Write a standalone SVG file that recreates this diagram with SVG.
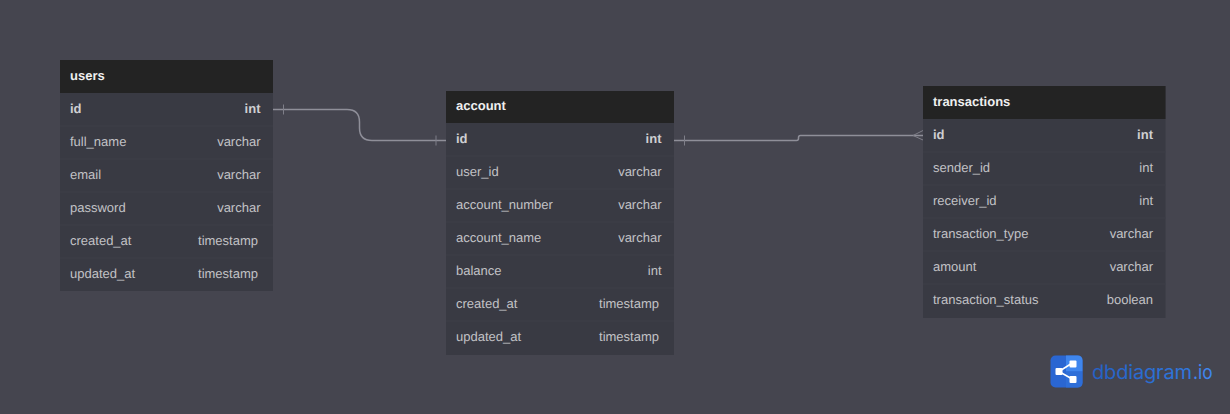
<svg xmlns="http://www.w3.org/2000/svg" width="1230" height="414" viewBox="0 0 1230 414">
<defs>
<linearGradient id="lg" gradientUnits="userSpaceOnUse" x1="1092" y1="0" x2="1192" y2="0"><stop offset="0" stop-color="#2560c4"/><stop offset="1" stop-color="#3078de"/></linearGradient>
</defs>
<style>
text{font-family:"Liberation Sans",Arial,sans-serif;font-size:13px;fill:#c2c2c6;text-rendering:geometricPrecision}
.h{font-weight:700;fill:#efefef}
.b{font-weight:700;fill:#cfcfd2}
.r{text-anchor:end}
.hd{fill:#232323}
.bd{fill:#393a43}
.sep{stroke:#3e3f48;stroke-width:1}
.c{fill:none;stroke:#8f8f99;stroke-width:1.5}
.t{fill:none;stroke:#7f7f89;stroke-width:1}
.w{font-family:"Inter",sans-serif;font-size:20px}
</style>
<rect width="1230" height="414" fill="#45454f"/>
<g id="connectors">
<path class="c" d="M273 109.500H347Q359.500 109.500 359.500 122V128Q359.500 140.500 372 140.500H446"/>
<path class="t" d="M283.500 104.500V114.500M436 135.500V145.500"/>
<path class="c" d="M674 140.500H796.500Q798.500 140.500 798.500 138.500V137.500Q798.500 135.500 800.500 135.500H923"/>
<path class="t" d="M684.500 135.500V145.500M923 130.500L913 135.500L923 140"/>
</g>
<g id="users">
<rect class="bd" x="60" y="60" width="213" height="231"/>
<rect class="hd" x="60" y="60" width="213" height="33"/>
<path class="sep" d="M60 126H273M60 159H273M60 192H273M60 225H273M60 258H273"/>
<text class="h" x="70" y="80">users</text>
<text class="b" x="70" y="113">id</text><text class="b r" x="260.500" y="113">int</text>
<text x="70" y="146">full_name</text><text class="r" x="260.500" y="146">varchar</text>
<text x="70" y="179">email</text><text class="r" x="260.500" y="179">varchar</text>
<text x="70" y="212">password</text><text class="r" x="260.500" y="212">varchar</text>
<text x="70" y="245">created_at</text><text class="r" x="258" y="245">timestamp</text>
<text x="70" y="278">updated_at</text><text class="r" x="258" y="278">timestamp</text>
</g>
<g id="account">
<rect class="bd" x="446" y="91" width="228" height="264"/>
<rect class="hd" x="446" y="91" width="228" height="32"/>
<path class="sep" d="M446 156H674M446 189H674M446 222H674M446 255H674M446 288H674M446 321H674"/>
<text class="h" x="456" y="110">account</text>
<text class="b" x="456" y="143">id</text><text class="b r" x="661.500" y="143">int</text>
<text x="456" y="176">user_id</text><text class="r" x="661.500" y="176">varchar</text>
<text x="456" y="209">account_number</text><text class="r" x="661.500" y="209">varchar</text>
<text x="456" y="242">account_name</text><text class="r" x="661.500" y="242">varchar</text>
<text x="456" y="275">balance</text><text class="r" x="661.500" y="275">int</text>
<text x="456" y="308">created_at</text><text class="r" x="659" y="308">timestamp</text>
<text x="456" y="341">updated_at</text><text class="r" x="659" y="341">timestamp</text>
</g>
<g id="transactions">
<rect class="bd" x="923" y="86" width="242.500" height="232"/>
<rect class="hd" x="923" y="86" width="242.500" height="33"/>
<path class="sep" d="M923 152H1165.500M923 185H1165.500M923 218H1165.500M923 251H1165.500M923 284H1165.500"/>
<text class="h" x="933" y="106">transactions</text>
<text class="b" x="933" y="139">id</text><text class="b r" x="1153" y="139">int</text>
<text x="933" y="172">sender_id</text><text class="r" x="1153" y="172">int</text>
<text x="933" y="205">receiver_id</text><text class="r" x="1153" y="205">int</text>
<text x="933" y="238">transaction_type</text><text class="r" x="1153" y="238">varchar</text>
<text x="933" y="271">amount</text><text class="r" x="1153" y="271">varchar</text>
<text x="933" y="304">transaction_status</text><text class="r" x="1153" y="304">boolean</text>
</g>
<g id="logo">
<rect x="1050.500" y="355.500" width="32" height="32" rx="5" fill="#2a66d2"/>
<path d="M1066 355.500H1077.500Q1082.500 355.500 1082.500 360.500V371.500H1066Z" fill="#3f86ee"/>
<path d="M1066 371.500H1082.500V382.500Q1082.500 387.500 1077.500 387.500H1066Z" fill="#2e6ed8"/>
<path d="M1059 371.500L1073 362.500M1059 371.500L1073 379.500" stroke="#fff" stroke-width="1.500" fill="none"/>
<rect x="1055.500" y="368" width="7" height="7" rx="1" fill="#fff"/>
<rect x="1069.500" y="360.500" width="7" height="7" rx="1" fill="#fff"/>
<rect x="1069.500" y="376" width="7" height="7" rx="1" fill="#fff"/>
<text class="w" x="1092" y="379" textLength="100" style="fill:url(#lg)">dbdiagram</text>
<text class="w" x="1193" y="379" textLength="19.500" lengthAdjust="spacingAndGlyphs" style="fill:#3f86ee">.io</text>
</g>
</svg>
